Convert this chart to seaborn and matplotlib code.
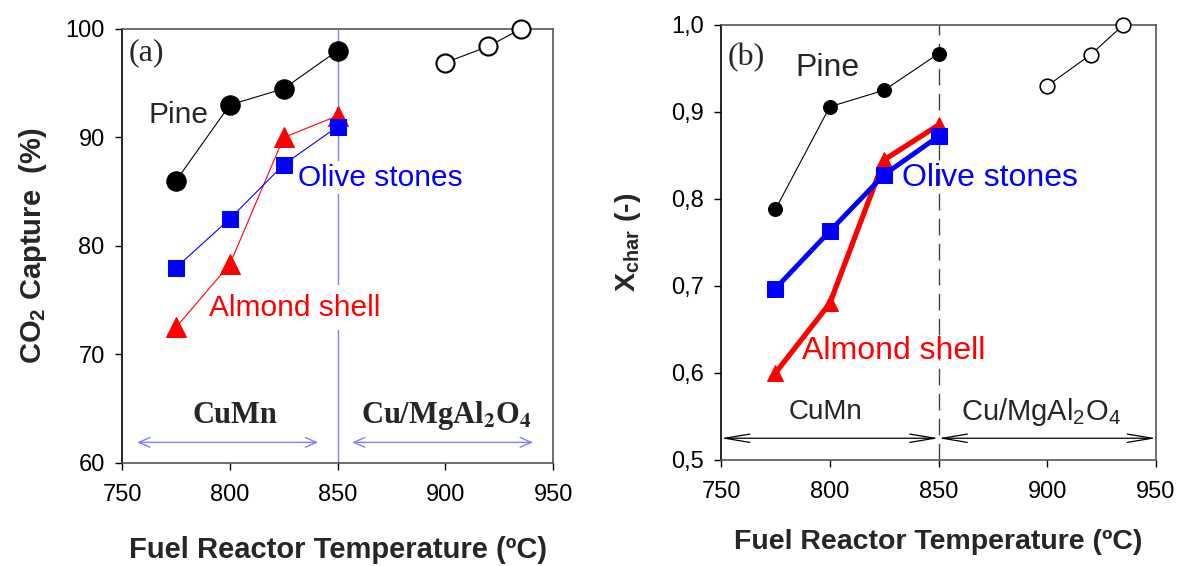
import numpy as np
import pandas as pd
import matplotlib.pyplot as plt
import seaborn as sns
from matplotlib.ticker import FuncFormatter

# Fuel reactor temperatures (ºC)
temp_cumn = [775, 800, 825, 850]
temp_cumg = [900, 920, 935]

# (a) CO2 capture (%)
co2_pine = [86.0, 93.0, 94.5, 98.0]
co2_pine_cumg = [96.9, 98.4, 100.0]
co2_olive = [78.0, 82.5, 87.5, 91.0]
co2_almond = [72.5, 78.3, 90.0, 92.0]

# (b) char conversion X_char (-)
xc_pine = [0.788, 0.906, 0.925, 0.967]
xc_pine_cumg = [0.930, 0.966, 1.000]
xc_olive = [0.697, 0.763, 0.828, 0.872]
xc_almond = [0.600, 0.680, 0.845, 0.885]

x_ticks = [750, 800, 850, 900, 950]

sns.set_style("ticks")
plt.rcParams["font.family"] = ["Liberation Sans", "DejaVu Sans"]
plt.rcParams["mathtext.fontset"] = "custom"
plt.rcParams["mathtext.rm"] = "Liberation Sans"
plt.rcParams["mathtext.it"] = "Liberation Sans:italic"
plt.rcParams["mathtext.bf"] = "Liberation Sans:bold"

fig = plt.figure(figsize=(11.77, 5.66), dpi=100)
ax1 = fig.add_axes([0.1037, 0.1820, 0.3662, 0.7668])
ax2 = fig.add_axes([0.6126, 0.1873, 0.3696, 0.7686])

serif = ["Liberation Serif", "DejaVu Serif"]

# ---------------- panel (a) ----------------
ax1.axvline(850, color="#8080ff", lw=1.0, zorder=1)
sns.lineplot(x=temp_cumn, y=co2_pine, ax=ax1, color="black", marker="o", markersize=14,
             markeredgecolor="black", linewidth=0.8, zorder=3)
sns.lineplot(x=temp_cumg, y=co2_pine_cumg, ax=ax1, color="black", marker="o", markersize=13,
             markerfacecolor="white", markeredgecolor="black", markeredgewidth=1.5,
             linewidth=0.8, zorder=3, clip_on=False)
sns.lineplot(x=temp_cumn, y=co2_almond, ax=ax1, color="red", marker="^", markersize=14,
             markeredgecolor="red", linewidth=0.8, zorder=3)
sns.lineplot(x=temp_cumn, y=co2_olive, ax=ax1, color="#0000ff", marker="s", markersize=11,
             markeredgecolor="#0000ff", linewidth=0.8, zorder=4)

ax1.set_xlim(750, 950)
ax1.set_ylim(60, 100)
ax1.set_xticks(x_ticks)
ax1.set_yticks([60, 70, 80, 90, 100])
ax1.set_xlabel("Fuel Reactor Temperature (ºC)", fontsize=21, fontweight="bold", labelpad=22)
ax1.set_ylabel("CO$_\\mathbf{2}$ Capture  (%)", fontsize=21, fontweight="bold", labelpad=12)

ax1.text(753, 97.8, "(a)", family=serif, fontsize=23, va="center")
ax1.text(776.4, 92.1, "Pine", fontsize=21.5, ha="center", va="center")
ax1.text(831.7, 86.3, "Olive stones", fontsize=21.5, color="#0000ff", va="center",
         bbox=dict(facecolor="white", edgecolor="none", pad=2), zorder=2)
ax1.text(790.4, 74.3, "Almond shell", fontsize=21.5, color="red", va="center",
         bbox=dict(facecolor="white", edgecolor="none", pad=6), zorder=2)
ax1.text(802.4, 64.4, "CuMn", family=serif, fontsize=22, fontweight="bold", ha="center", va="center")
ax1.text(900.3, 64.4, "Cu/MgAl$_\\mathbf{2}$O$_\\mathbf{4}$", family=serif, fontsize=22,
         fontweight="bold", ha="center", va="center", math_fontfamily="stix")
arrow_a = dict(arrowstyle="<->,head_length=0.8,head_width=0.35", color="#8080ff", lw=1.0,
               shrinkA=0, shrinkB=0)
ax1.annotate("", xy=(841, 61.9), xytext=(757, 61.9), arrowprops=arrow_a)
ax1.annotate("", xy=(940.7, 61.9), xytext=(856.7, 61.9), arrowprops=arrow_a)

# ---------------- panel (b) ----------------
ax2.axvline(850, color="#444444", lw=1.0, ls=(0, (12, 6)), zorder=1)
sns.lineplot(x=temp_cumn, y=xc_pine, ax=ax2, color="black", marker="o", markersize=10,
             markeredgecolor="black", linewidth=0.8, zorder=3)
sns.lineplot(x=temp_cumg, y=xc_pine_cumg, ax=ax2, color="black", marker="o", markersize=10.5,
             markerfacecolor="white", markeredgecolor="black", markeredgewidth=1.2,
             linewidth=0.8, zorder=3, clip_on=False)
sns.lineplot(x=temp_cumn, y=xc_almond, ax=ax2, color="red", marker="^", markersize=12,
             markeredgecolor="red", linewidth=3.8, zorder=3)
sns.lineplot(x=temp_cumn, y=xc_olive, ax=ax2, color="#0000ff", marker="s", markersize=11,
             markeredgecolor="#0000ff", linewidth=3.5, zorder=4)

ax2.set_xlim(750, 950)
ax2.set_ylim(0.5, 1.0)
ax2.set_xticks(x_ticks)
ax2.set_yticks([0.5, 0.6, 0.7, 0.8, 0.9, 1.0])
ax2.yaxis.set_major_formatter(FuncFormatter(lambda v, p: f"{v:.1f}".replace(".", ",")))
ax2.set_xlabel("Fuel Reactor Temperature (ºC)", fontsize=20.5, fontweight="bold", labelpad=19)
ax2.set_ylabel("X$_\\mathbf{char}$ (-)", fontsize=20.5, fontweight="bold", labelpad=20)

ax2.text(753, 0.963, "(b)", family=serif, fontsize=23, va="center")
ax2.text(799, 0.950, "Pine", fontsize=23, ha="center", va="center")
ax2.text(833.2, 0.8245, "Olive stones", fontsize=23, color="#0000ff", va="center", zorder=5)
ax2.text(787.2, 0.625, "Almond shell", fontsize=23, color="red", va="center", zorder=5)
ax2.text(798, 0.555, "CuMn", fontsize=20, ha="center", va="center")
ax2.text(897, 0.555, "Cu/MgAl$_2$O$_4$", fontsize=21, ha="center", va="center")
arrow_b = dict(arrowstyle="<->,head_length=1.8,head_width=0.3", color="black", lw=0.9,
               shrinkA=0, shrinkB=0)
ax2.annotate("", xy=(850, 0.525), xytext=(750, 0.525), arrowprops=arrow_b)
ax2.annotate("", xy=(950, 0.525), xytext=(850, 0.525), arrowprops=arrow_b)

for ax in (ax1, ax2):
    ax.tick_params(axis="both", labelsize=17, direction="out", length=5, width=1, colors="black")
    ax.tick_params(axis="x", pad=10)
    ax.tick_params(axis="y", pad=7.5)
    for side in ("left", "right", "top", "bottom"):
        ax.spines[side].set_visible(True)
        ax.spines[side].set_color("#555555")
        ax.spines[side].set_linewidth(1.2)
    ax.spines["left"].set_color("black")

fig.savefig("out.png", dpi=100)
